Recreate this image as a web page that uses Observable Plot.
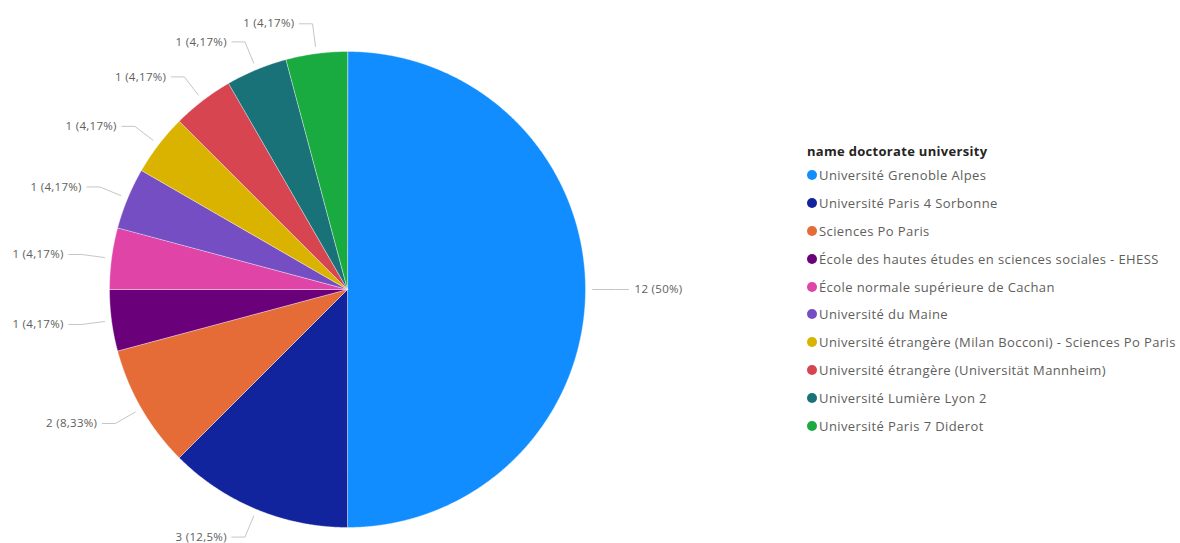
<!DOCTYPE html>
<html>
<head>
<meta charset="utf-8">
<script src="https://cdn.jsdelivr.net/npm/d3@7"></script>
<script src="https://cdn.jsdelivr.net/npm/@observablehq/plot@0.6"></script>
<style>
  html, body { margin: 0; padding: 0; background: #fff; }
  #wrap { position: relative; width: 1180px; height: 543px; overflow: hidden; font-family: "Open Sans", "Noto Sans", sans-serif; }
  #chart { position: absolute; left: 0; top: 0; }
  #legend { position: absolute; left: 807px; top: 141px; }
  #legend .title { font-size: 13px; font-weight: 700; color: #252423; height: 20px; line-height: 20px; letter-spacing: 0.3px; }
  #legend .item { display: flex; align-items: center; height: 27.9px; font-size: 13px; letter-spacing: 0.4px; color: #605E5C; white-space: nowrap; }
  #legend .sw { width: 10px; height: 10px; border-radius: 50%; margin-right: 2px; flex: none; }
</style>
</head>
<body>
<div id="wrap">
  <div id="chart"></div>
  <div id="legend"></div>
</div>
<script>
const legendTitle = "name doctorate university";
const names = [
  "Université Grenoble Alpes",
  "Université Paris 4 Sorbonne",
  "Sciences Po Paris",
  "École des hautes études en sciences sociales - EHESS",
  "École normale supérieure de Cachan",
  "Université du Maine",
  "Université étrangère (Milan Bocconi) - Sciences Po Paris",
  "Université étrangère (Universität Mannheim)",
  "Université Lumière Lyon 2",
  "Université Paris 7 Diderot"
];
const counts = [12, 3, 2, 1, 1, 1, 1, 1, 1, 1];
const labels = ["12 (50%)", "3 (12,5%)", "2 (8,33%)", "1 (4,17%)", "1 (4,17%)", "1 (4,17%)", "1 (4,17%)", "1 (4,17%)", "1 (4,17%)", "1 (4,17%)"];
const colors = ["#118DFF", "#12239E", "#E66C37", "#6B007B", "#E044A7", "#744EC2", "#D9B300", "#D64550", "#197278", "#1AAB40"];

// Build slice polygons (unit radius) from the data via d3.pie
const data = names.map((name, i) => ({name, value: counts[i], label: labels[i]}));
const arcs = d3.pie().sort(null).value(d => d.value)(data);
const pt = (a, r) => ({x: r * Math.sin(a), y: r * Math.cos(a)});
const slicePts = [];
arcs.forEach(a => {
  slicePts.push({name: a.data.name, x: 0, y: 0});
  const n = Math.max(2, Math.ceil((a.endAngle - a.startAngle) / 0.005));
  for (let k = 0; k <= n; k++) {
    const ang = a.startAngle + (a.endAngle - a.startAngle) * k / n;
    slicePts.push({name: a.data.name, ...pt(ang, 1)});
  }
});

// Leader lines and labels
const leaderPts = [];
const labelPts = [];
arcs.forEach(a => {
  const mid = (a.startAngle + a.endAngle) / 2;
  const right = Math.sin(mid) > 1e-6;
  const p1 = pt(mid, 1.03);
  const p2 = pt(mid, 1.126);
  const p3 = {x: p2.x + (right ? 0.055 : -0.055), y: p2.y};
  [p1, p2, p3].forEach(p => leaderPts.push({name: a.data.name, ...p}));
  labelPts.push({label: a.data.label, right, ...p3});
});

const R = 238;
const chart = Plot.plot({
  width: 720,
  height: 543,
  marginLeft: 109,
  marginRight: 720 - 109 - 2 * R,
  marginTop: 51,
  marginBottom: 543 - 51 - 2 * R,
  x: {domain: [-1, 1], axis: null},
  y: {domain: [-1, 1], axis: null},
  color: {domain: names, range: colors},
  style: {fontFamily: "'Open Sans', 'Noto Sans', sans-serif", overflow: "visible", letterSpacing: "0.3px"},
  marks: [
    Plot.line(slicePts, {x: "x", y: "y", z: "name", fill: "name", stroke: "white", strokeWidth: 0.4, curve: "linear-closed"}),
    Plot.line(leaderPts, {x: "x", y: "y", z: "name", stroke: "#C8C6C4", strokeWidth: 1}),
    Plot.text(labelPts.filter(d => d.right), {x: "x", y: "y", text: "label", textAnchor: "start", dx: 6, fill: "#605E5C", fontSize: 11.5}),
    Plot.text(labelPts.filter(d => !d.right), {x: "x", y: "y", text: "label", textAnchor: "end", dx: -5, fill: "#605E5C", fontSize: 11.5})
  ]
});
document.getElementById("chart").appendChild(chart);

// Legend
const lg = document.getElementById("legend");
const t = document.createElement("div");
t.className = "title";
t.textContent = legendTitle;
lg.appendChild(t);
names.forEach((n, i) => {
  const it = document.createElement("div");
  it.className = "item";
  const sw = document.createElement("span");
  sw.className = "sw";
  sw.style.background = colors[i];
  const tx = document.createElement("span");
  tx.textContent = n;
  it.appendChild(sw);
  it.appendChild(tx);
  lg.appendChild(it);
});
</script>
</body>
</html>
